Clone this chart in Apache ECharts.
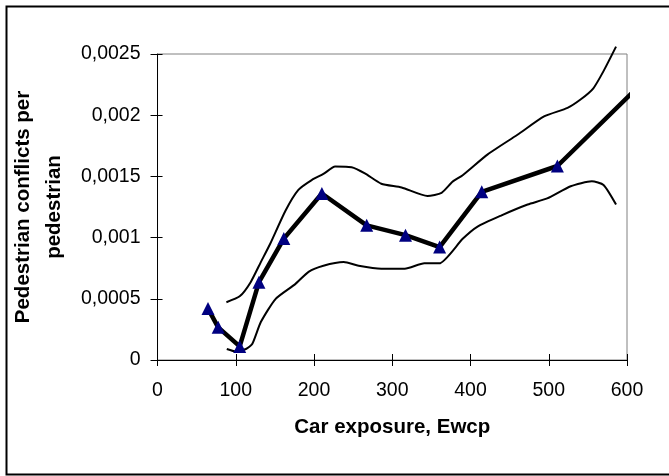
<!DOCTYPE html>
<html>
<head>
<meta charset="utf-8">
<script src="https://cdn.jsdelivr.net/npm/echarts@6/dist/echarts.min.js"></script>
<style>html,body{margin:0;padding:0;background:#fff;}#c{width:669px;height:476px;}</style>
</head>
<body>
<div id="c"></div>
<script>
// Main estimate (thick line with triangle markers)
const mainX = [64.5, 77.5, 105, 129.6, 161.4, 210, 267.3, 316.9, 360.5, 414.4, 511, 614];
const mainY = [0.00042, 0.000267, 0.000111, 0.000636, 0.000992, 0.00136, 0.0011, 0.00102, 0.000923, 0.001374, 0.001585, 0.00223];
const mainMarked = [true, true, true, true, true, true, true, true, true, true, true, false];
// Upper band
const upperX = [88, 105, 119, 132, 144, 163.5, 180, 197, 212, 227, 248, 265, 286, 312, 345, 363, 377, 390, 422, 460, 494, 524, 541, 557, 570, 586];
const upperY = [0.000472, 0.00052, 0.000636, 0.0008, 0.00095, 0.00122, 0.00139, 0.00147, 0.00152, 0.00158, 0.001575, 0.001525, 0.00144, 0.00141, 0.00134, 0.001366, 0.001456, 0.00151, 0.00168, 0.00184, 0.00199, 0.00206, 0.00213, 0.00222, 0.00236, 0.00256];
// Lower band
const lowerX = [88.5, 100, 113, 121, 132, 151, 176, 193, 212, 238, 257, 286, 316, 341, 360, 390, 409, 439, 473, 498, 528, 555, 570, 586];
const lowerY = [0.00009, 0.00007, 0.00009, 0.00013, 0.00031, 0.0005, 0.00062, 0.00072, 0.00077, 0.0008, 0.00077, 0.000746, 0.000746, 0.00079, 0.00079, 0.00099, 0.00109, 0.00118, 0.00127, 0.00132, 0.00142, 0.00146, 0.00143, 0.00127];

const xTitle = 'Car exposure, Ewcp';
const yTitle = 'Pedestrian conflicts per\npedestrian';

const FONT = '"Liberation Sans", Arial, sans-serif';
const zip = (xs, ys) => xs.map((x, i) => [x, ys[i]]);
const fmtY = v => v === 0 ? '0' : String(Number(v.toPrecision(6))).replace('.', ',');

const chart = echarts.init(document.getElementById('c'), null, {renderer: 'canvas'});
chart.setOption({
  animation: false,
  backgroundColor: '#fff',
  grid: {left: 155, right: 42, top: 54, bottom: 116, show: true, borderColor: '#808080', borderWidth: 1, backgroundColor: 'transparent'},
  graphic: [{
    type: 'rect', shape: {x: 6.5, y: 6.5, width: 680, height: 468}, z: 100,
    style: {fill: 'none', stroke: '#000', lineWidth: 2}
  }],
  xAxis: [{
    type: 'value', min: 0, max: 600, interval: 100,
    name: xTitle, nameLocation: 'middle', nameGap: 57,
    nameTextStyle: {fontFamily: FONT, fontSize: 20.5, fontWeight: 'bold', color: '#000'},
    axisLine: {show: true, onZero: false, lineStyle: {color: '#000', width: 1}},
    axisTick: {show: true, inside: false, length: 6, lineStyle: {color: '#000'}},
    axisLabel: {fontFamily: FONT, fontSize: 19.5, color: '#000', margin: 21},
    splitLine: {show: false}
  }, {
    type: 'value', min: 0, max: 600, interval: 100, position: 'bottom',
    axisLine: {show: false}, axisLabel: {show: false}, splitLine: {show: false},
    axisTick: {show: true, inside: true, length: 6, lineStyle: {color: '#000'}}
  }],
  yAxis: [{
    type: 'value', min: 0, max: 0.0025, interval: 0.0005,
    name: yTitle, nameLocation: 'middle', nameGap: 72, nameRotate: 90,
    nameTextStyle: {fontFamily: FONT, fontSize: 20.5, fontWeight: 'bold', color: '#000', lineHeight: 31, align: 'center'},
    axisLine: {show: true, onZero: false, lineStyle: {color: '#000', width: 1}},
    axisTick: {show: true, inside: false, length: 7, lineStyle: {color: '#000'}},
    axisLabel: {fontFamily: FONT, fontSize: 19.5, color: '#000', margin: 17, formatter: fmtY},
    splitLine: {show: false}
  }, {
    type: 'value', min: 0, max: 0.0025, interval: 0.0005, position: 'left',
    axisLine: {show: false}, axisLabel: {show: false}, splitLine: {show: false},
    axisTick: {show: true, inside: true, length: 5, lineStyle: {color: '#000'}}
  }],
  series: [{
    type: 'line', data: zip(upperX, upperY), smooth: 0.2, clip: false, symbol: 'none',
    lineStyle: {color: '#000', width: 2}, z: 2
  }, {
    type: 'line', data: zip(lowerX, lowerY), smooth: 0.2, clip: false, symbol: 'none',
    lineStyle: {color: '#000', width: 2}, z: 2
  }, {
    type: 'line', clip: false,
    data: mainX.map((x, i) => ({value: [x, mainY[i]], symbol: mainMarked[i] ? 'triangle' : 'none'})),
    symbolSize: 13, showAllSymbol: true,
    itemStyle: {color: '#000080', borderWidth: 0},
    lineStyle: {color: '#000', width: 4.5}, z: 3
  }]
});
</script>
</body>
</html>
